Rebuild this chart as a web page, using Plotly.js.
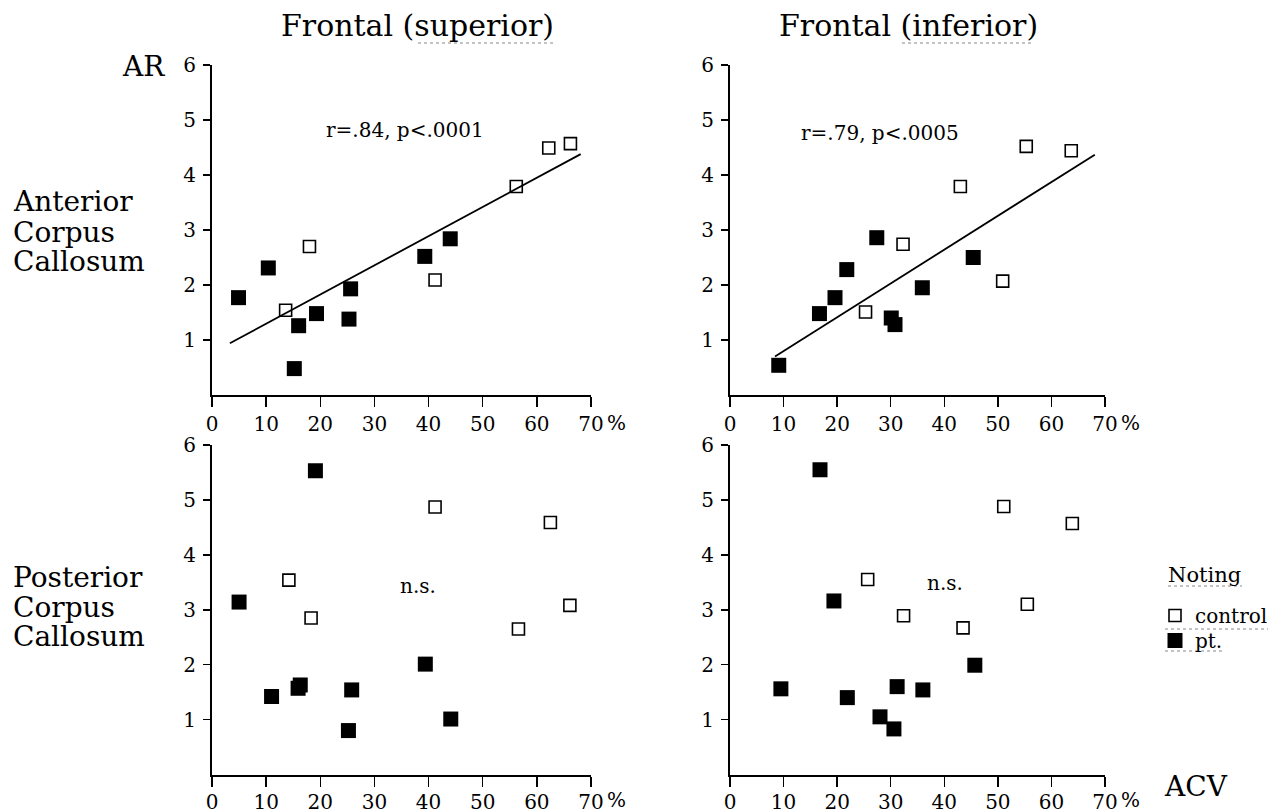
<!DOCTYPE html>
<html>
<head>
<meta charset="utf-8">
<script src="https://cdn.plot.ly/plotly-3.0.1.min.js"></script>
<style>html,body{margin:0;padding:0;background:#fff;}#chart{width:1278px;height:810px;}</style>
</head>
<body>
<div id="chart"></div>
<script>
// ---- Data ----
// Frontal (superior) vs Anterior Corpus Callosum
const ctrlSupAntX = [13.6, 18.0, 41.2, 56.2, 62.2, 66.2];
const ctrlSupAntY = [1.54, 2.70, 2.09, 3.79, 4.49, 4.57];
const ptSupAntX   = [4.9, 10.4, 15.2, 16.0, 19.3, 25.3, 25.6, 39.3, 44.0];
const ptSupAntY   = [1.77, 2.31, 0.48, 1.26, 1.48, 1.38, 1.93, 2.52, 2.84];
const fitSupX = [3.3, 68.1];
const fitSupY = [0.94, 4.38];

// Frontal (inferior) vs Anterior Corpus Callosum
const ctrlInfAntX = [25.3, 32.3, 43.0, 50.9, 55.3, 63.7];
const ctrlInfAntY = [1.51, 2.74, 3.79, 2.07, 4.52, 4.44];
const ptInfAntX   = [9.1, 16.7, 19.6, 21.8, 27.4, 30.1, 30.8, 35.9, 45.4];
const ptInfAntY   = [0.54, 1.48, 1.77, 2.28, 2.86, 1.40, 1.28, 1.95, 2.50];
const fitInfX = [8.4, 68.1];
const fitInfY = [0.70, 4.37];

// Frontal (superior) vs Posterior Corpus Callosum
const ctrlSupPostX = [14.2, 18.3, 41.2, 56.6, 62.5, 66.1];
const ctrlSupPostY = [3.54, 2.85, 4.87, 2.65, 4.59, 3.08];
const ptSupPostX   = [5.0, 11.0, 15.9, 16.3, 19.1, 25.2, 25.8, 39.4, 44.1];
const ptSupPostY   = [3.14, 1.42, 1.57, 1.63, 5.53, 0.80, 1.54, 2.01, 1.01];

// Frontal (inferior) vs Posterior Corpus Callosum
const ctrlInfPostX = [25.7, 32.4, 43.5, 51.1, 55.5, 63.9];
const ctrlInfPostY = [3.55, 2.89, 2.67, 4.88, 3.10, 4.57];
const ptInfPostX   = [9.5, 16.8, 19.4, 21.9, 28.0, 30.6, 31.2, 36.0, 45.7];
const ptInfPostY   = [1.56, 5.55, 3.16, 1.40, 1.05, 0.83, 1.60, 1.54, 1.99];

const xTickVals = [0, 10, 20, 30, 40, 50, 60, 70];
const xTickText = ['0', '10', '20', '30', '40', '50', '60', '70'];
const yTickVals = [1, 2, 3, 4, 5, 6];
const yTickText = ['1', '2', '3', '4', '5', '6'];

const colTitles = ['Frontal (superior)', 'Frontal (inferior)'];
const statTexts = ['r=.84, p<.0001', 'r=.79, p<.0005', 'n.s.', 'n.s.'];
const groupNames = ['control', 'pt.'];
const legendTitle = 'Noting';

// ---- Styles ----
const FONT = 'DejaVu Serif, Liberation Serif, serif';
const ctrlMarker = {symbol: 'square-open', size: 12, color: '#000', line: {color: '#000', width: 1.6}};
const ptMarker = {symbol: 'square', size: 15, color: '#000', line: {width: 0}};

function pts(x, y, ax, ay, name, marker, show, lg) {
  const t = {x: x, y: y, xaxis: ax, yaxis: ay, type: 'scatter', mode: 'markers',
          name: name, marker: marker, showlegend: show, hoverinfo: 'x+y'};
  if (lg) t.legend = lg;
  return t;
}
function fit(x, y, ax, ay) {
  return {x: x, y: y, xaxis: ax, yaxis: ay, type: 'scatter', mode: 'lines',
          line: {color: '#000', width: 1.8}, showlegend: false, hoverinfo: 'skip'};
}

const data = [
  pts(ctrlSupAntX, ctrlSupAntY, 'x', 'y', groupNames[0], ctrlMarker, true, 'legend'),
  pts(ptSupAntX, ptSupAntY, 'x', 'y', groupNames[1], ptMarker, true, 'legend2'),
  fit(fitSupX, fitSupY, 'x', 'y'),
  pts(ctrlInfAntX, ctrlInfAntY, 'x2', 'y2', groupNames[0], ctrlMarker, false),
  pts(ptInfAntX, ptInfAntY, 'x2', 'y2', groupNames[1], ptMarker, false),
  fit(fitInfX, fitInfY, 'x2', 'y2'),
  pts(ctrlSupPostX, ctrlSupPostY, 'x3', 'y3', groupNames[0], ctrlMarker, false),
  pts(ptSupPostX, ptSupPostY, 'x3', 'y3', groupNames[1], ptMarker, false),
  pts(ctrlInfPostX, ctrlInfPostY, 'x4', 'y4', groupNames[0], ctrlMarker, false),
  pts(ptInfPostX, ptInfPostY, 'x4', 'y4', groupNames[1], ptMarker, false)
];

const W = 1278, H = 810;
const px = v => v / W;
const py = v => (H - v) / H;

function xax(domain, anchor, standoff) {
  return {domain: domain, anchor: anchor, range: [0, 70], tickmode: 'array',
          tickvals: xTickVals, ticktext: xTickText, ticks: 'outside', ticklen: 10,
          tickwidth: 1.5, tickcolor: '#000', showline: true, linewidth: 2, linecolor: '#000',
          showgrid: false, zeroline: false, tickfont: {family: FONT, size: 20, color: '#000'},
          ticklabelstandoff: standoff, fixedrange: true};
}
function yax(domain, anchor) {
  return {domain: domain, anchor: anchor, range: [0, 6], tickmode: 'array',
          tickvals: yTickVals, ticktext: yTickText, ticks: 'outside', ticklen: 7,
          tickwidth: 1.5, tickcolor: '#000', showline: true, linewidth: 2, linecolor: '#000',
          showgrid: false, zeroline: false, tickfont: {family: FONT, size: 20, color: '#000'},
          ticklabelstandoff: 3, fixedrange: true};
}

const xL = [px(212), px(591)], xR = [px(730), px(1105)];
const yT = [py(395), py(65)], yB = [py(774.5), py(445)];

function ann(text, x, y, opts) {
  return Object.assign({text: text, x: x, y: y, xref: 'paper', yref: 'paper', showarrow: false,
    xanchor: 'left', yanchor: 'middle', font: {family: FONT, size: 28, color: '#000'}}, opts || {});
}
const statFont = {family: FONT, size: 20, color: '#000'};

const annotations = [
  ann(colTitles[0], px(417), py(25), {xanchor: 'center', font: {family: FONT, size: 30, color: '#000'}}),
  ann(colTitles[1], px(908), py(25), {xanchor: 'center', font: {family: FONT, size: 30, color: '#000'}}),
  ann('AR', px(167), py(67), {xanchor: 'right'}),
  ann('Anterior', px(11), py(202)),
  ann('Corpus', px(11), py(232)),
  ann('Callosum', px(11), py(261)),
  ann('Posterior', px(11), py(577)),
  ann('Corpus', px(11), py(607)),
  ann('Callosum', px(11), py(636)),
  ann('ACV', px(1196), py(786), {xanchor: 'center'}),
  ann(legendTitle, px(1166), py(575), {font: {family: FONT, size: 21, color: '#000'}}),
  // statistics
  {text: statTexts[0], x: 35.7, y: 4.82, xref: 'x', yref: 'y', showarrow: false, xanchor: 'center', yanchor: 'middle', font: statFont},
  {text: statTexts[1], x: 28.0, y: 4.76, xref: 'x2', yref: 'y2', showarrow: false, xanchor: 'center', yanchor: 'middle', font: statFont},
  {text: statTexts[2], x: 38.0, y: 3.43, xref: 'x3', yref: 'y3', showarrow: false, xanchor: 'center', yanchor: 'middle', font: statFont},
  {text: statTexts[3], x: 40.1, y: 3.49, xref: 'x4', yref: 'y4', showarrow: false, xanchor: 'center', yanchor: 'middle', font: statFont}
];
// "%" after the 70 tick labels
[['x', 423], ['x2', 423], ['x3', 800], ['x4', 800]].forEach(([xr, yy]) => {
  annotations.push({text: '%', x: 70, y: py(yy), xref: xr, yref: 'paper', xanchor: 'left', yanchor: 'middle',
    xshift: 14, showarrow: false, font: statFont});
});

function uline(x0, x1, y) {
  return {type: 'line', xref: 'paper', yref: 'paper', x0: px(x0), x1: px(x1), y0: py(y), y1: py(y),
          line: {color: '#888', width: 1, dash: 'dot'}};
}
function legendBox(topPx) {
  return {x: px(1155), y: py(topPx), xanchor: 'left', yanchor: 'top', bgcolor: 'rgba(0,0,0,0)',
          borderwidth: 0, font: {family: FONT, size: 20, color: '#000'}, itemwidth: 30};
}

const layout = {
  width: W, height: H,
  margin: {l: 0, r: 0, t: 0, b: 0, pad: 0},
  paper_bgcolor: '#fff', plot_bgcolor: 'rgba(0,0,0,0)',
  font: {family: FONT, color: '#000'},
  showlegend: true,
  legend: legendBox(596),
  legend2: legendBox(621),
  xaxis: xax(xL, 'y', 0), yaxis: yax(yT, 'x'),
  xaxis2: xax(xR, 'y2', 0), yaxis2: yax(yT, 'x2'),
  xaxis3: xax(xL, 'y3', -2), yaxis3: yax(yB, 'x3'),
  xaxis4: xax(xR, 'y4', -2), yaxis4: yax(yB, 'x4'),
  annotations: annotations,
  shapes: [
    uline(418, 553, 43),
    uline(902, 1034, 43),
    uline(1168, 1242, 586),
    uline(1165, 1268, 629),
    uline(1165, 1222, 651)
  ]
};

Plotly.newPlot('chart', data, layout, {displayModeBar: false, staticPlot: true});
</script>
</body>
</html>
